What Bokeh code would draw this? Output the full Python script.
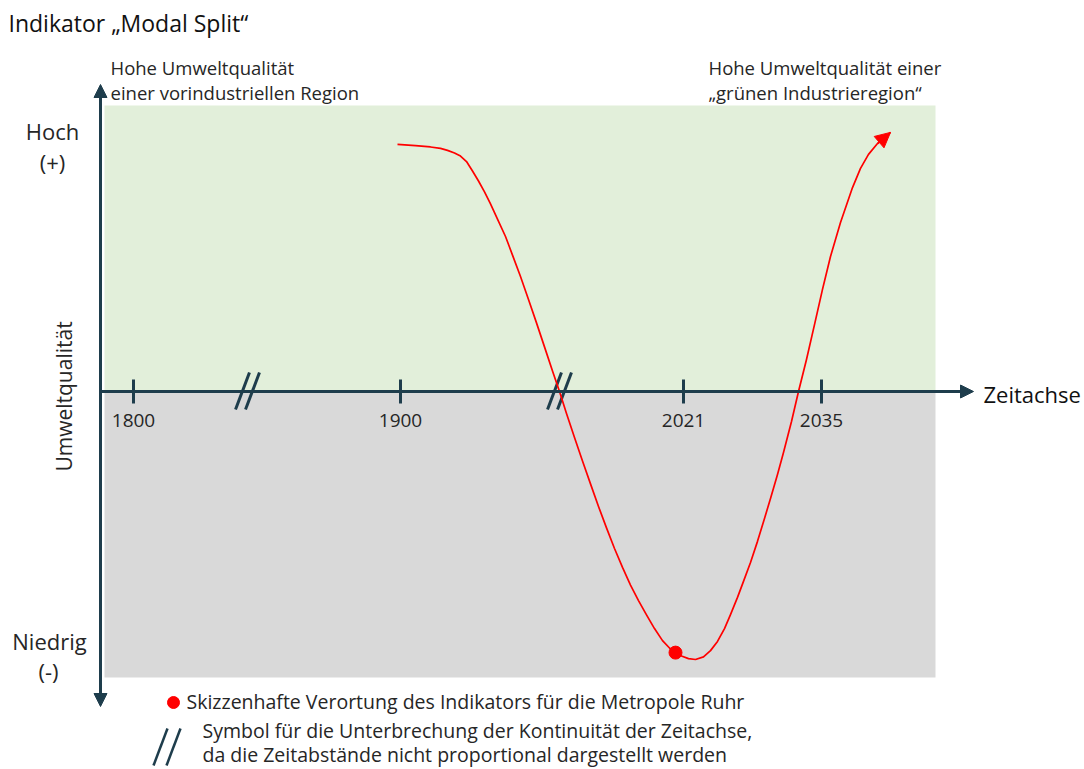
import numpy as np
from bokeh.plotting import figure
from bokeh.models import Range1d, Arrow, NormalHead
from bokeh.embed import file_html
from bokeh.resources import INLINE
from bokeh.core.properties import value

# ---------------- data ----------------
title = "Indikator „Modal Split“"
tick_labels = ["1800", "1900", "2021", "2035"]
tick_pos = [133, 400, 683, 821]          # positions on the (non-proportional) time axis
break_pos = [247, 559]                   # axis interruptions
# schematic course of environmental quality (x: time-axis position, q: -1 low .. +1 high)
curve_x = [397, 415, 430, 440, 447, 454, 460, 466, 472, 478, 484, 490, 497,
           505, 512, 520, 528, 536, 544, 552, 559, 566, 574, 582, 590, 598,
           606, 614, 622, 630, 638, 646, 654, 662, 669, 675, 681, 688, 695,
           703, 710, 717, 724, 730, 737, 743, 750, 757, 764, 770, 777, 783,
           791, 798, 806, 814, 822, 830, 840, 852, 860, 868, 877, 890]
curve_q = [0.864, 0.860, 0.855, 0.850, 0.843, 0.834, 0.823, 0.804, 0.771,
           0.736, 0.698, 0.656, 0.603, 0.542, 0.477, 0.402, 0.322, 0.240,
           0.156, 0.072, 0.000, -0.077, -0.161, -0.243, -0.323, -0.402,
           -0.477, -0.549, -0.615, -0.677, -0.731, -0.781, -0.829, -0.871,
           -0.897, -0.913, -0.925, -0.934, -0.937, -0.928, -0.906, -0.874,
           -0.829, -0.780, -0.720, -0.664, -0.598, -0.524, -0.444, -0.374,
           -0.290, -0.213, -0.105, 0.000, 0.112, 0.234, 0.357, 0.472, 0.591,
           0.713, 0.780, 0.829, 0.867, 0.906]
ruhr_x = [675]
ruhr_q = [-0.913]

# ---------------- layout ----------------
W, H = 1084, 769
FONT = "Open Sans"
AX = "#1e3d4c"
TXT = "#262626"
RED = "#ff0000"


def Q(py):
    """convert a vertical page position to quality units"""
    return (391.0 - py) / 286.0


p = figure(width=W, height=H, output_backend="svg", toolbar_location=None,
           x_range=Range1d(0, W), y_range=Range1d(Q(H), Q(0)),
           x_axis_location=None, y_axis_location=None, min_border=0,
           outline_line_color=None, background_fill_color="white")
p.grid.visible = False

# background zones
p.quad(left=[104], right=[935], bottom=[0], top=[1], fill_color="#E2EFDA", line_color=None)
p.quad(left=[104], right=[935], bottom=[-1], top=[0], fill_color="#D9D9D9", line_color=None)

# axes
p.add_layout(Arrow(end=NormalHead(size=13, fill_color=AX, line_color=AX, line_width=1),
                   x_start=100, y_start=0, x_end=973, y_end=0,
                   line_color=AX, line_width=3))
p.add_layout(Arrow(start=NormalHead(size=13, fill_color=AX, line_color=AX, line_width=1),
                   end=NormalHead(size=13, fill_color=AX, line_color=AX, line_width=1),
                   x_start=100, y_start=Q(706), x_end=100, y_end=Q(84),
                   line_color=AX, line_width=3))

# ticks
p.segment(x0=tick_pos, y0=[Q(379)] * len(tick_pos), x1=tick_pos, y1=[Q(403)] * len(tick_pos),
          line_color=AX, line_width=3)
p.text(x=tick_pos, y=[Q(420)] * len(tick_pos), text=tick_labels,
       text_font=value(FONT), text_font_size="19px", text_color=TXT,
       text_align="center", text_baseline="middle")

# axis breaks
for b in break_pos:
    p.segment(x0=[b - 12, b - 2], y0=[Q(409), Q(409)], x1=[b + 2, b + 12], y1=[Q(372), Q(372)],
              line_color=AX, line_width=3)

# curve
p.line(curve_x, curve_q, line_color=RED, line_width=1.7, line_join="round")
p.add_layout(Arrow(end=NormalHead(size=15, fill_color=RED, line_color=RED, line_width=1),
                   x_start=curve_x[-2], y_start=curve_q[-2], x_end=curve_x[-1], y_end=curve_q[-1],
                   line_color=RED, line_width=1.7))
p.scatter(ruhr_x, ruhr_q, size=13, fill_color=RED, line_color=RED)


# texts
def txt(x, py, s, size, align="left", color=TXT, angle=0):
    p.text(x=[x], y=[Q(py)], text=[s], text_font=value(FONT), text_font_size=size,
           text_color=color, text_align=align, text_baseline="middle", angle=angle)


txt(8, 22, title, "23px", color="#111111")
txt(110, 67, "Hohe Umweltqualität", "18.5px")
txt(110, 92, "einer vorindustriellen Region", "18.5px")
txt(708, 67, "Hohe Umweltqualität einer", "18.5px")
txt(708, 92, "„grünen Industrieregion“", "18.5px")
txt(983, 393, "Zeitachse", "22px", color="#111111")
txt(52, 130, "Hoch", "22px", align="center")
txt(52, 161, "(+)", "22px", align="center")
txt(49, 640, "Niedrig", "22px", align="center")
txt(48, 670, "(-)", "22px", align="center")
txt(63, 396, "Umweltqualität", "21px", align="center", angle=np.pi / 2)

# legend
p.scatter([173], [Q(702)], size=12, fill_color=RED, line_color=RED)
txt(186, 701, "Skizzenhafte Verortung des Indikators für die Metropole Ruhr", "19.5px")
p.segment(x0=[153, 166], y0=[Q(765), Q(765)], x1=[167, 180], y1=[Q(728), Q(728)],
          line_color=AX, line_width=2.5)
txt(202, 730, "Symbol für die Unterbrechung der Kontinuität der Zeitachse,", "19.5px")
txt(202, 754, "da die Zeitabstände nicht proportional dargestellt werden", "19.5px")

open("out.html", "w").write(file_html(p, INLINE))
